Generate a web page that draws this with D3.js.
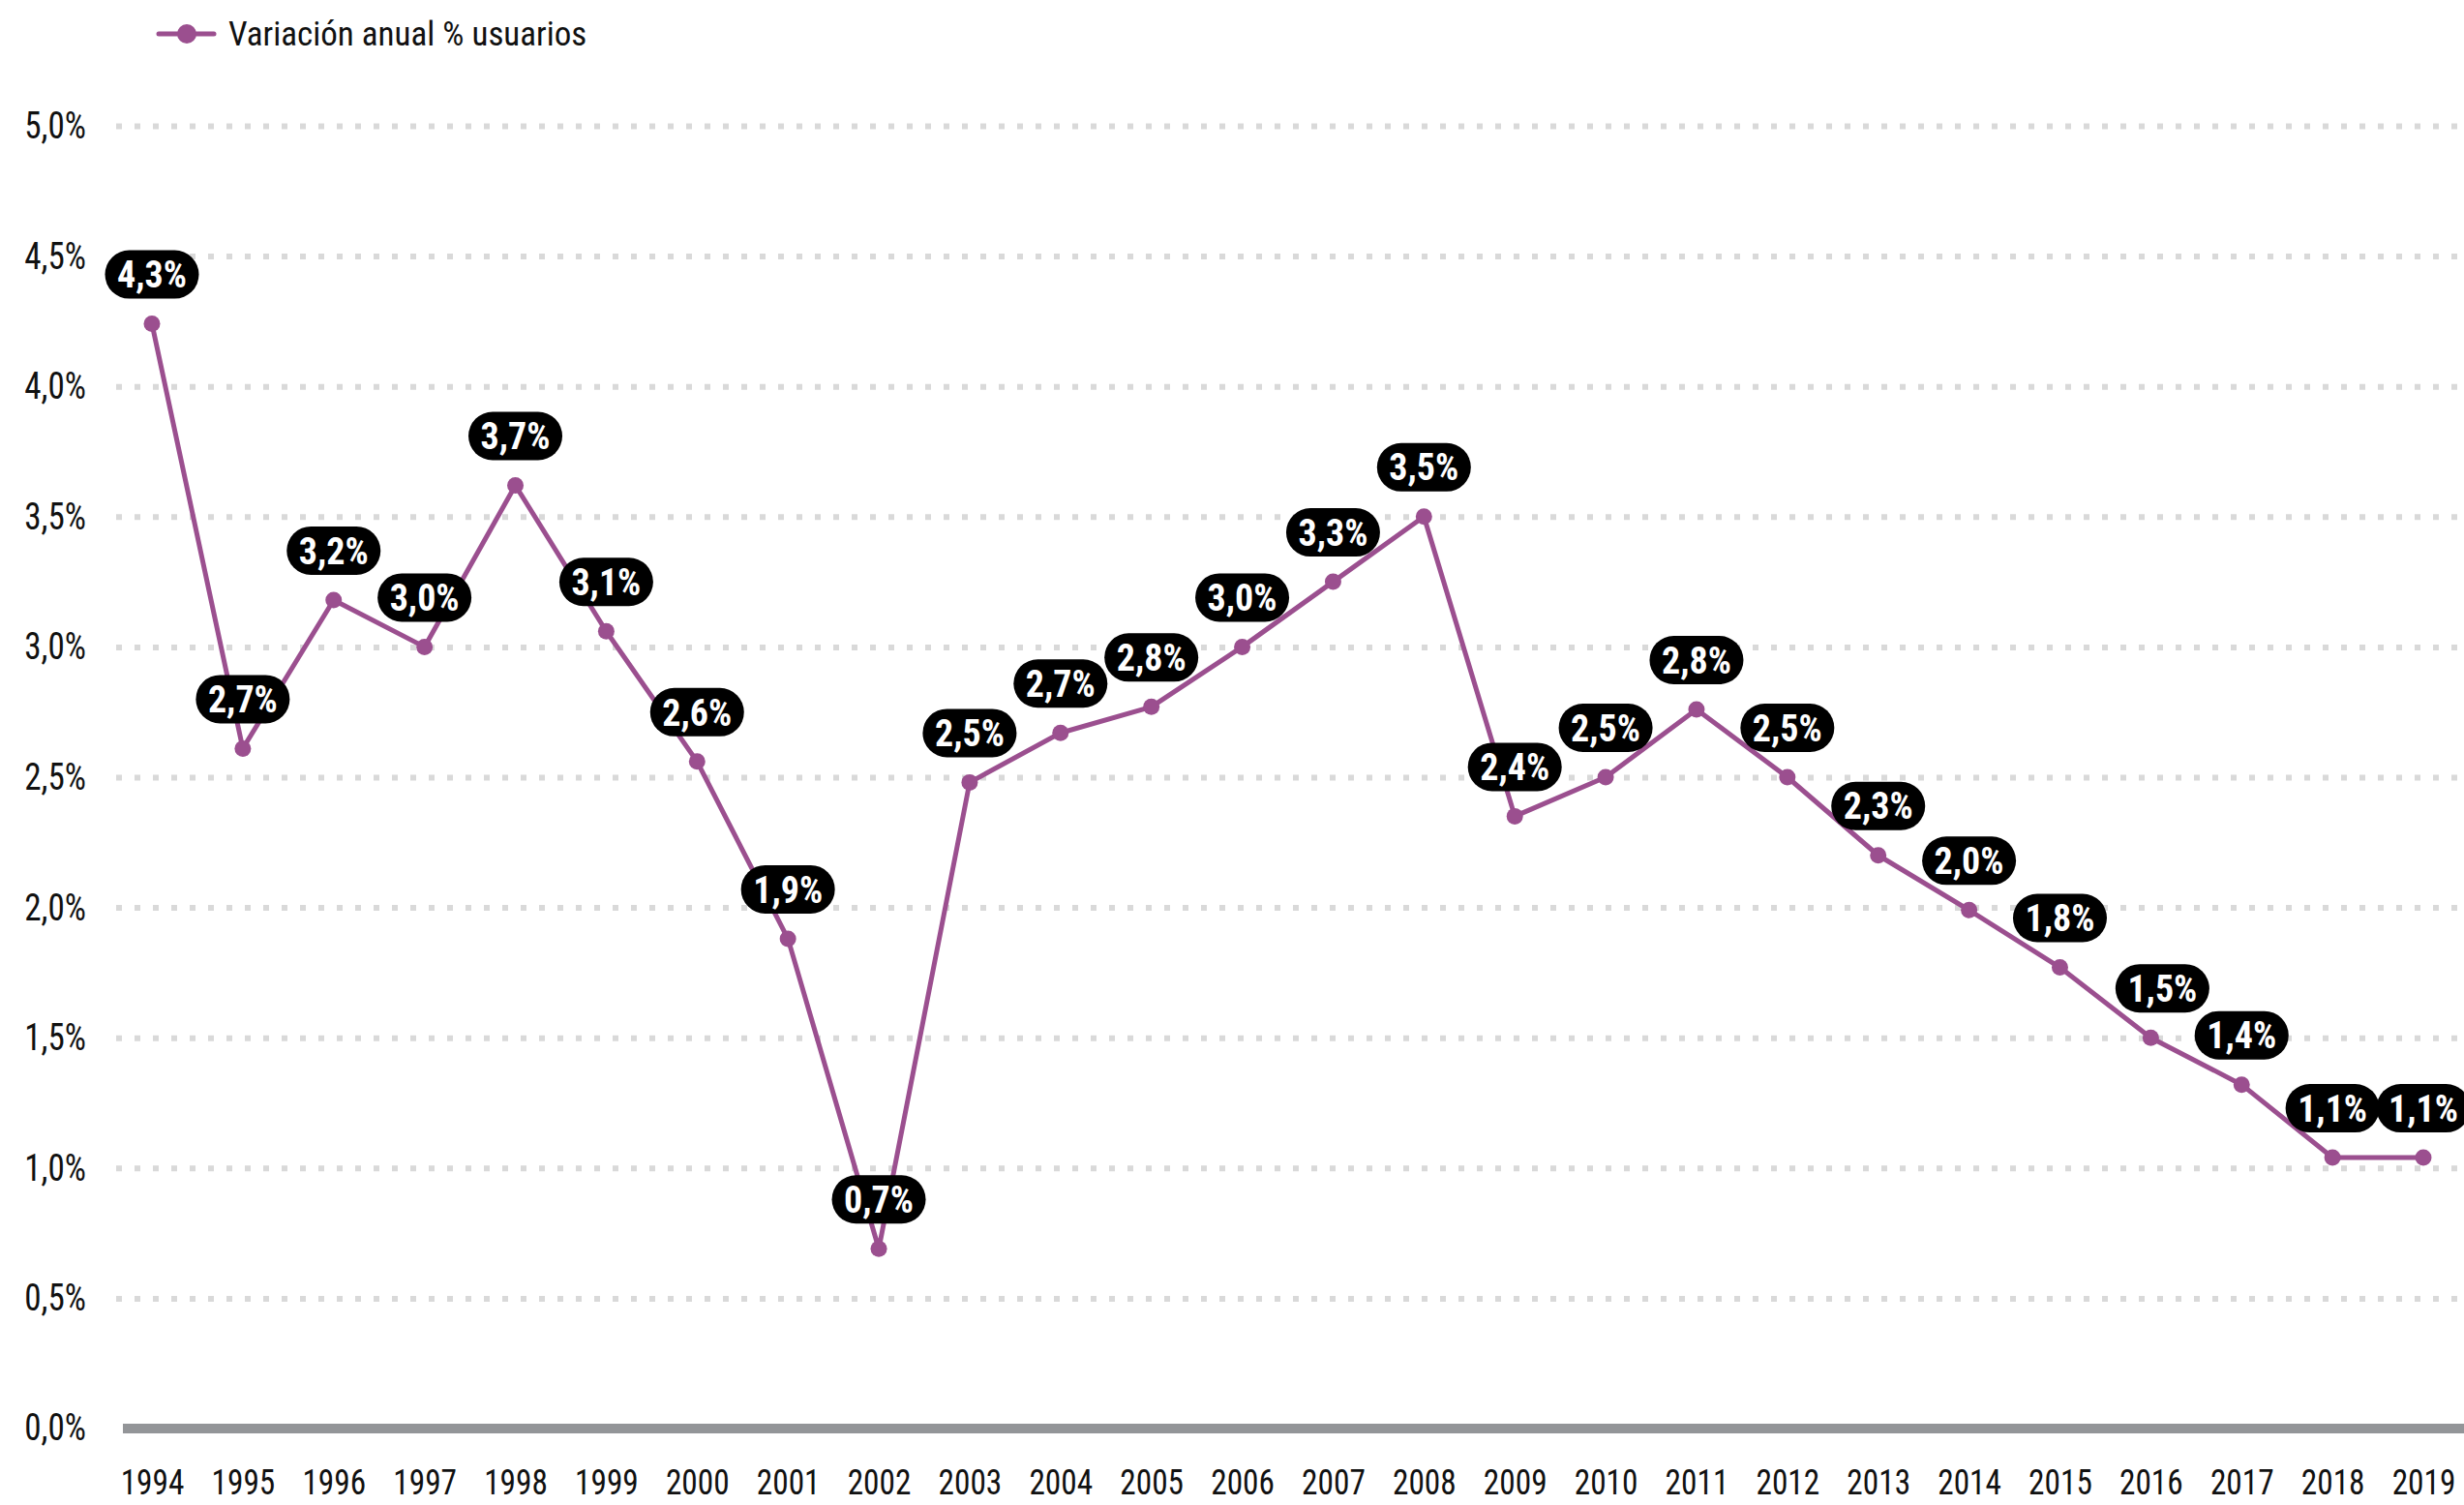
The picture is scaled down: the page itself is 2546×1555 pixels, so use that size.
<!DOCTYPE html>
<html>
<head>
<meta charset="utf-8">
<script src="https://cdn.jsdelivr.net/npm/d3@7"></script>
<style>
  html, body { margin: 0; padding: 0; background: #fff; }
  svg { display: block; }
  text { font-family: "Roboto Condensed", "Liberation Sans Narrow", "DejaVu Sans Condensed", sans-serif; }
</style>
</head>
<body>
<svg id="chart" width="2546" height="1555"></svg>
<script>
// data
const years = [1994, 1995, 1996, 1997, 1998, 1999, 2000, 2001, 2002, 2003, 2004, 2005, 2006,
    2007, 2008, 2009, 2010, 2011, 2012, 2013, 2014, 2015, 2016, 2017, 2018, 2019];
const values = [4.24, 2.61, 3.18, 3.00, 3.62, 3.06, 2.56, 1.88, 0.69, 2.48, 2.67, 2.77, 3.00,
    3.25, 3.50, 2.35, 2.50, 2.76, 2.50, 2.20, 1.99, 1.77, 1.50, 1.32, 1.04, 1.04];
const valueLabels = ['4,3%', '2,7%', '3,2%', '3,0%', '3,7%', '3,1%', '2,6%', '1,9%', '0,7%', '2,5%',
    '2,7%', '2,8%', '3,0%', '3,3%', '3,5%', '2,4%', '2,5%', '2,8%', '2,5%', '2,3%', '2,0%', '1,8%',
    '1,5%', '1,4%', '1,1%', '1,1%'];
const yTicks = [0, 0.5, 1, 1.5, 2, 2.5, 3, 3.5, 4, 4.5, 5];
const yTickLabels = ['0,0%', '0,5%', '1,0%', '1,5%', '2,0%', '2,5%', '3,0%', '3,5%', '4,0%', '4,5%', '5,0%'];
const seriesName = 'Variación anual % usuarios';

const W = 2546, H = 1555;
const purple = '#9b4f8f';
const ink = '#111';
const squeeze = 0.9; // axis text is narrower than Roboto Condensed

const svg = d3.select('#chart');

const x = d3.scalePoint().domain(years).range([157, 2504]);
const y = d3.scaleLinear().domain([0, 5]).range([1476, 130]);

// gridlines + y labels
const yAxis = d3.axisLeft(y)
    .tickValues(yTicks.filter(d => d > 0))
    .tickSize(-(W - 120))
    .tickPadding(31)
    .tickFormat(d => yTickLabels[yTicks.indexOf(d)]);

const gy = svg.append('g')
    .attr('transform', 'translate(120,0)')
    .call(yAxis);
gy.select('.domain').remove();
gy.selectAll('.tick line')
    .attr('stroke', '#d9d9d9')
    .attr('stroke-width', 6)
    .attr('stroke-dasharray', '6,13');
gy.selectAll('.tick text')
    .attr('x', -31 / squeeze)
    .attr('transform', `scale(${squeeze},1)`)
    .attr('fill', ink)
    .style('font-size', '39px');

// zero label + baseline
svg.append('text')
    .attr('x', 89 / squeeze)
    .attr('y', y(0))
    .attr('dy', '0.32em')
    .attr('transform', `scale(${squeeze},1)`)
    .attr('text-anchor', 'end')
    .attr('fill', ink)
    .style('font-size', '39px')
    .text(yTickLabels[0]);

svg.append('line')
    .attr('x1', 127).attr('x2', W)
    .attr('y1', y(0)).attr('y2', y(0))
    .attr('stroke', '#939598')
    .attr('stroke-width', 10);

// x axis labels
const gx = svg.append('g')
    .attr('transform', `translate(0,${y(0)})`)
    .call(d3.axisBottom(x).tickSize(0).tickPadding(0));
gx.select('.domain').remove();
gx.selectAll('.tick text')
    .attr('y', 68)
    .attr('dy', 0)
    .attr('transform', `scale(${squeeze},1)`)
    .attr('fill', ink)
    .style('font-size', '37px');

// line + points
const line = d3.line()
    .x((d, i) => x(years[i]))
    .y(d => y(d));

svg.append('path')
    .datum(values)
    .attr('fill', 'none')
    .attr('stroke', purple)
    .attr('stroke-width', 5)
    .attr('stroke-linejoin', 'round')
    .attr('d', line);

svg.selectAll('.dot')
    .data(values)
    .join('circle')
    .attr('class', 'dot')
    .attr('cx', (d, i) => x(years[i]))
    .attr('cy', d => y(d))
    .attr('r', 8.5)
    .attr('fill', purple);

// value labels (black pills)
const nudge = {2016: 12};
const lab = svg.selectAll('.lab')
    .data(values)
    .join('g')
    .attr('class', 'lab')
    .attr('transform', (d, i) => `translate(${x(years[i]) + (nudge[years[i]] || 0)},${y(d) - 51})`);

lab.append('rect')
    .attr('x', -48.5).attr('y', -25)
    .attr('width', 97).attr('height', 50)
    .attr('rx', 25)
    .attr('fill', '#000');

lab.append('text')
    .attr('text-anchor', 'middle')
    .attr('dy', '0.36em')
    .attr('fill', '#fff')
    .style('font-size', '38px')
    .style('font-weight', 'bold')
    .text((d, i) => valueLabels[i]);

// legend
const lg = svg.append('g').attr('transform', 'translate(0,35)');
lg.append('line')
    .attr('x1', 164).attr('x2', 221)
    .attr('stroke', purple)
    .attr('stroke-width', 5)
    .attr('stroke-linecap', 'round');
lg.append('circle')
    .attr('cx', 193).attr('r', 10)
    .attr('fill', purple);
lg.append('text')
    .attr('x', 236)
    .attr('dy', '0.35em')
    .attr('fill', ink)
    .style('font-size', '35px')
    .text(seriesName);
</script>
</body>
</html>
